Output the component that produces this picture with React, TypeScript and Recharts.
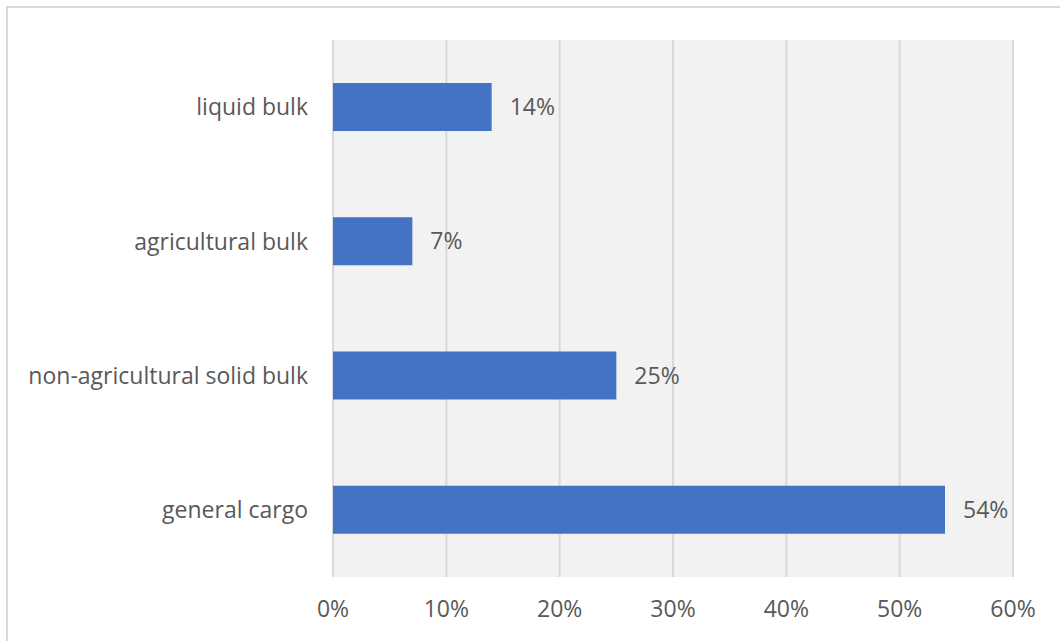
import React from "react";
import { BarChart, Bar, XAxis, YAxis, CartesianGrid, LabelList } from "recharts";

const categories = ["liquid bulk", "agricultural bulk", "non-agricultural solid bulk", "general cargo"];
const shares = [14, 7, 25, 54];
const xTicks = [0, 10, 20, 30, 40, 50, 60];

const data = categories.map((c, i) => ({ name: c, value: shares[i] }));

const FONT = "'Open Sans', sans-serif";
const TXT = "#595959";
const FS = 23;

export default function App() {
  return (
    <div style={{ position: "absolute", left: 0, top: 0, width: 1060, height: 641, background: "#fff", overflow: "hidden" }}>
      <div style={{ position: "absolute", left: 6, top: 6, width: 1100, height: 700, border: "2px solid #d9d9d9", boxSizing: "border-box" }} />
      <div style={{ position: "absolute", left: 0, top: 0 }}>
        <BarChart
          width={1060}
          height={641}
          data={data}
          layout="vertical"
          margin={{ top: 40, right: 47, bottom: 0, left: 0 }}
          barSize={48}
        >
          <CartesianGrid horizontal={false} vertical={true} fill="#f2f2f2" stroke="#d9d9d9" strokeWidth={2} />
          <XAxis
            type="number"
            domain={[0, 60]}
            ticks={xTicks}
            tickFormatter={(v) => `${v}%`}
            axisLine={false}
            tickLine={false}
            tickSize={0}
            tickMargin={24}
            height={64}
            tick={{ fill: TXT, fontSize: FS, fontFamily: FONT }}
          />
          <YAxis
            type="category"
            dataKey="name"
            width={333}
            axisLine={false}
            tickLine={false}
            tickSize={0}
            tickMargin={25}
            tick={{ fill: TXT, fontSize: FS, fontFamily: FONT }}
          />
          <Bar dataKey="value" fill="#4472c4" isAnimationActive={false}>
            <LabelList
              dataKey="value"
              position="right"
              offset={18}
              formatter={(v: any) => `${v}%`}
              style={{ fill: TXT, fontSize: FS, fontFamily: FONT }}
            />
          </Bar>
        </BarChart>
      </div>
    </div>
  );
}
